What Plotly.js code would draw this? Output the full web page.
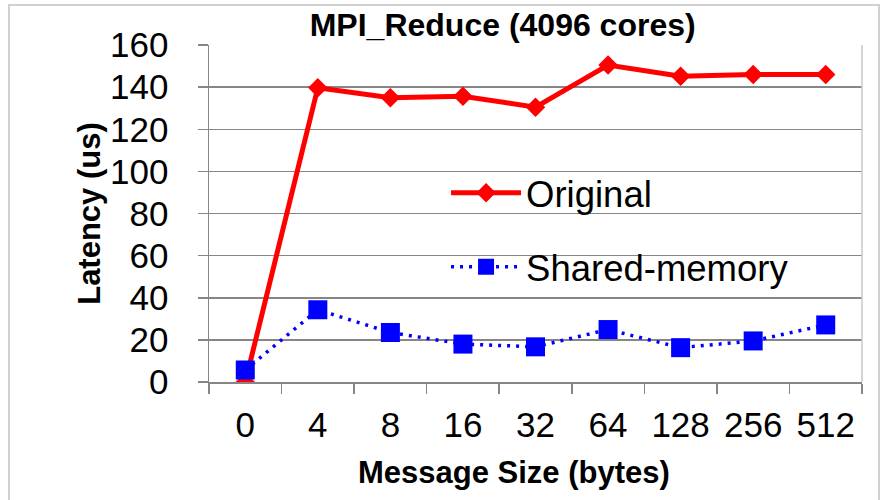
<!DOCTYPE html>
<html>
<head>
<meta charset="utf-8">
<script src="https://cdn.plot.ly/plotly-3.0.1.min.js"></script>
<style>
  html, body { margin: 0; padding: 0; background: #fff; }
  #wrap { position: relative; width: 885px; height: 500px; }
  #chart { width: 885px; height: 500px; }
  #frame { position: absolute; left: 8px; top: 4px; width: 872px; height: 500px;
           border: 2px solid #d0d0d0; box-sizing: border-box; pointer-events: none; }
</style>
</head>
<body>
<div id="wrap">
  <div id="chart"></div>
  <div id="frame"></div>
</div>
<script>
const categories = ['0', '4', '8', '16', '32', '64', '128', '256', '512'];
const originalLatency = [0, 139.7, 135, 135.7, 130.5, 150.5, 145.2, 146, 146];
const sharedLatency = [5.7, 34.3, 23.5, 18, 16.7, 24.9, 16.3, 19.5, 27.1];
const yTicks = [0, 20, 40, 60, 80, 100, 120, 140, 160];

const font = 'Arial, "Liberation Sans", sans-serif';

const traces = [
  {
    x: categories, y: originalLatency, name: 'Original',
    type: 'scatter', mode: 'lines+markers',
    line: { color: '#ff0000', width: 5 },
    marker: { symbol: 'diamond', size: 15, color: '#ff0000' },
    legend: 'legend'
  },
  {
    x: categories, y: sharedLatency, name: 'Shared-memory',
    type: 'scatter', mode: 'lines+markers',
    line: { color: '#0000ff', width: 3.5, dash: '3px,6px' },
    marker: { symbol: 'square', size: 19, color: '#0000ff' },
    legend: 'legend2'
  }
];

const layout = {
  width: 885, height: 500,
  margin: { l: 209, r: 23, t: 45, b: 118, pad: 0 },
  paper_bgcolor: '#ffffff', plot_bgcolor: '#ffffff',
  font: { family: font, color: '#000000', size: 35 },
  title: {
    text: '<b>MPI_Reduce (4096 cores)</b>',
    font: { family: font, size: 32, color: '#000' },
    xref: 'container', x: 0.568, xanchor: 'center',
    yref: 'container', y: 0.95, yanchor: 'middle'
  },
  xaxis: {
    type: 'category',
    range: [-0.5, 8.5],
    showgrid: false, zeroline: false,
    showline: true, linecolor: '#868686', linewidth: 1.5,
    ticks: 'outside', tickson: 'boundaries', ticklen: 10, tickwidth: 1.5, tickcolor: '#868686',
    tickfont: { family: font, size: 35, color: '#000' },
    ticklabelstandoff: 11,
    fixedrange: true
  },
  yaxis: {
    range: [0, 160],
    tickvals: yTicks,
    showgrid: true, gridcolor: '#868686', gridwidth: 1.5,
    zeroline: false,
    showline: true, linecolor: '#868686', linewidth: 1.5,
    ticks: 'outside', ticklen: 10, tickwidth: 1.5, tickcolor: '#868686',
    tickfont: { family: font, size: 35, color: '#000' },
    ticklabelstandoff: 22,
    title: { text: '<b>Latency (us)</b>', font: { family: font, size: 31, color: '#000' }, standoff: 0 },
    fixedrange: true
  },
  annotations: [
    { text: '<b>Message Size (bytes)</b>', xref: 'paper', yref: 'paper',
      x: 0.467, y: -0.27, xanchor: 'center', yanchor: 'middle', showarrow: false,
      font: { family: font, size: 31, color: '#000' } }
  ],
  shapes: [
    { type: 'line', xref: 'paper', yref: 'paper', x0: 1, x1: 1, y0: 0, y1: 1,
      line: { color: '#c8c8c8', width: 1.5 } }
  ],
  showlegend: true,
  legend: {
    x: 0.363, xanchor: 'left', y: 0.561, yanchor: 'middle',
    bgcolor: 'rgba(0,0,0,0)', borderwidth: 0,
    font: { family: font, size: 36.5, color: '#000' },
    itemwidth: 70, itemclick: false, itemdoubleclick: false
  },
  legend2: {
    x: 0.363, xanchor: 'left', y: 0.341, yanchor: 'middle',
    bgcolor: 'rgba(0,0,0,0)', borderwidth: 0,
    font: { family: font, size: 36.5, color: '#000' },
    itemwidth: 70, itemclick: false, itemdoubleclick: false
  }
};

Plotly.newPlot('chart', traces, layout, { displayModeBar: false, staticPlot: true });
</script>
</body>
</html>
